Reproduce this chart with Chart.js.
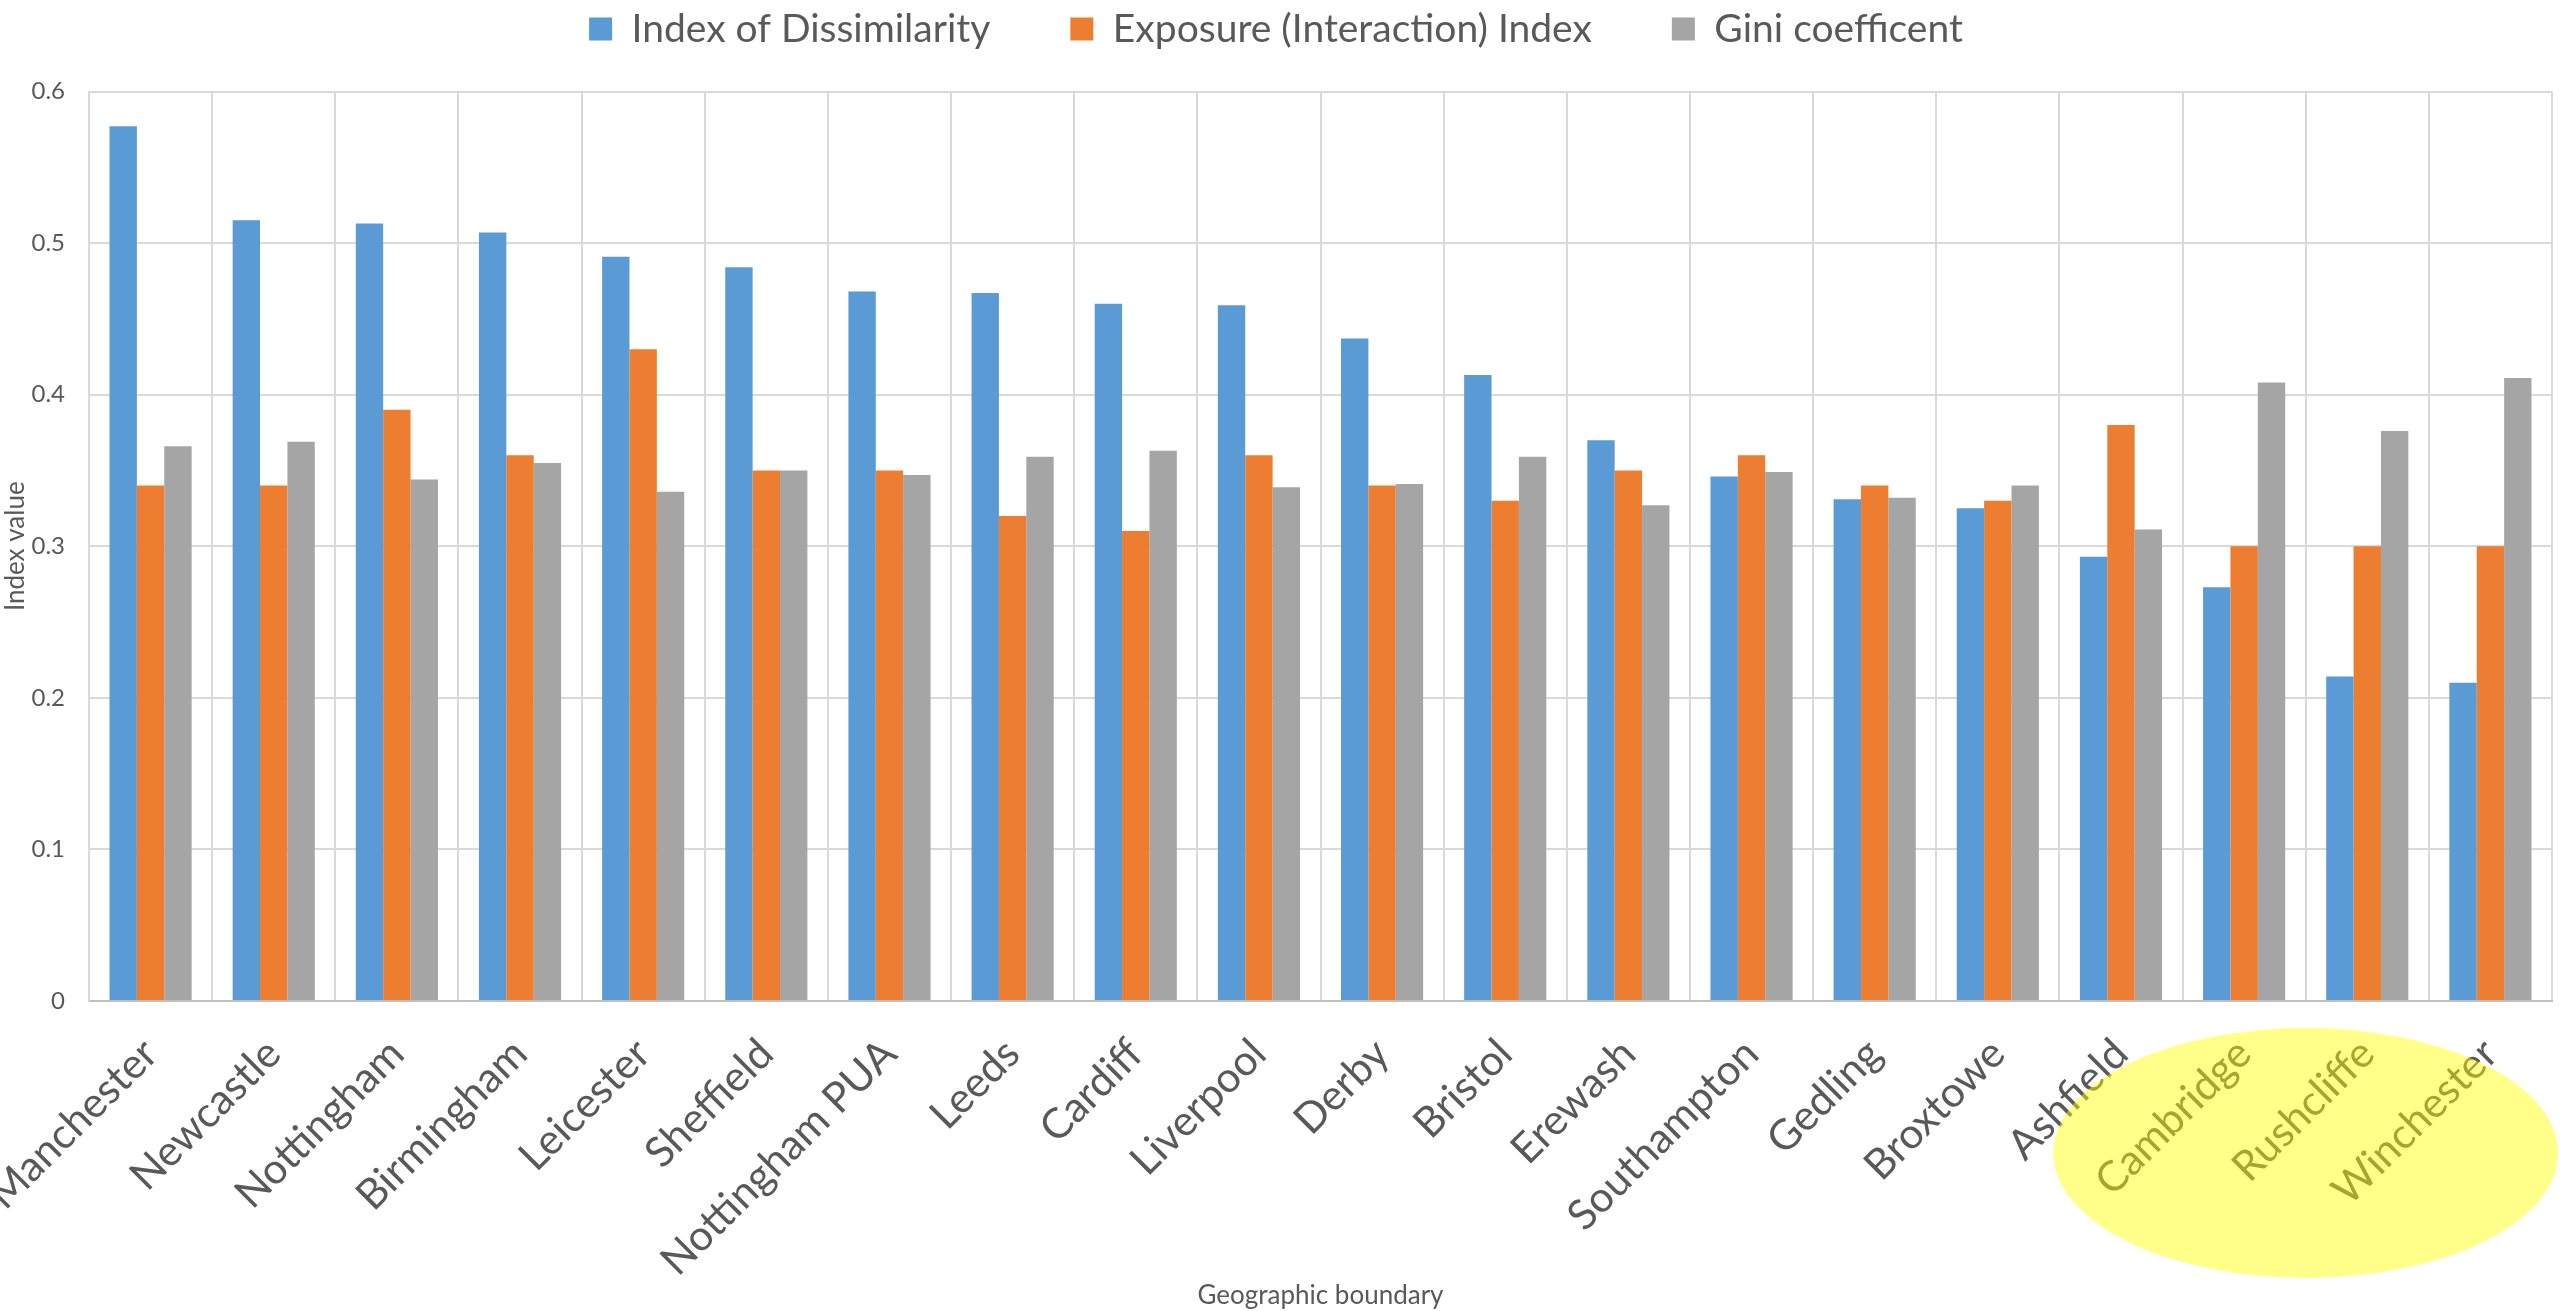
<!DOCTYPE html>
<html>
<head>
<meta charset="utf-8">
<title>Segregation indices by geographic boundary</title>
<script src="https://cdn.jsdelivr.net/npm/chart.js@4"></script>
<style>
  html, body { margin: 0; padding: 0; background: #fff; }
  #wrap { width: 2560px; height: 1311px; position: relative; }
</style>
</head>
<body>
<div id="wrap"><canvas id="chart"></canvas></div>
<script>
const categories = ["Manchester", "Newcastle", "Nottingham", "Birmingham", "Leicester", "Sheffield",
    "Nottingham PUA", "Leeds", "Cardiff", "Liverpool", "Derby", "Bristol", "Erewash", "Southampton",
    "Gedling", "Broxtowe", "Ashfield", "Cambridge", "Rushcliffe", "Winchester"];

const seriesNames = ["Index of Dissimilarity", "Exposure (Interaction) Index", "Gini coefficent"];

const dissimilarity = [0.577, 0.515, 0.513, 0.507, 0.491, 0.484, 0.468, 0.467, 0.460, 0.459,
    0.437, 0.413, 0.370, 0.346, 0.331, 0.325, 0.293, 0.273, 0.214, 0.210];
const exposure = [0.34, 0.34, 0.39, 0.36, 0.43, 0.35, 0.35, 0.32, 0.31, 0.36,
    0.34, 0.33, 0.35, 0.36, 0.34, 0.33, 0.38, 0.30, 0.30, 0.30];
const gini = [0.366, 0.369, 0.344, 0.355, 0.336, 0.350, 0.347, 0.359, 0.363, 0.339,
    0.341, 0.359, 0.327, 0.349, 0.332, 0.340, 0.311, 0.408, 0.376, 0.411];

const yTickLabels = ["0", "0.1", "0.2", "0.3", "0.4", "0.5", "0.6"];

const colors = ["#5B9BD5", "#ED7D31", "#A5A5A5"];
const textColor = "#595959";
const gridColor = "#D9D9D9";

Chart.defaults.font.family = "Lato, 'Open Sans', sans-serif";
Chart.defaults.color = textColor;

// yellow highlight round the last three labels
const highlight = {
    id: "highlight",
    afterDraw(chart) {
        const x = chart.scales.x;
        const ctx = chart.ctx;
        const step = x.getPixelForValue(1) - x.getPixelForValue(0);
        const cx = (x.getPixelForValue(17) + x.getPixelForValue(18)) / 2;
        const cy = chart.chartArea.bottom + 152;
        ctx.save();
        ctx.fillStyle = "rgba(255, 255, 0, 0.46)";
        ctx.beginPath();
        ctx.ellipse(cx, cy, step * 2.05, 125, 0, 0, Math.PI * 2);
        ctx.fill();
        ctx.restore();
    }
};

new Chart(document.getElementById("chart"), {
    type: "bar",
    data: {
        labels: categories,
        datasets: [dissimilarity, exposure, gini].map((values, i) => ({
            label: seriesNames[i],
            data: values,
            backgroundColor: colors[i],
            borderWidth: 0,
            categoryPercentage: 0.667,
            barPercentage: 1
        }))
    },
    options: {
        responsive: true,
        maintainAspectRatio: false,
        animation: false,
        layout: {
            padding: { top: -70.5, right: 8, bottom: 0, left: 0 }
        },
        scales: {
            x: {
                grid: { color: gridColor, lineWidth: 2, drawTicks: false },
                border: { color: "#BFBFBF", width: 2 },
                ticks: {
                    font: { size: 42 },
                    color: textColor,
                    minRotation: 45,
                    maxRotation: 45,
                    autoSkip: false,
                    padding: 28
                },
                title: {
                    display: true,
                    text: "Geographic boundary",
                    font: { size: 26 },
                    color: textColor,
                    padding: { top: 0, bottom: 0 }
                },
                // first label runs off the left edge, as in the original
                afterFit(scale) {
                    scale.height = 310;
                    scale.paddingLeft = 0;
                    scale.paddingRight = 0;
                }
            },
            y: {
                min: 0,
                max: 0.6,
                grid: { color: gridColor, lineWidth: 2, drawTicks: false },
                border: { color: gridColor, width: 2 },
                ticks: {
                    stepSize: 0.1,
                    font: { size: 24 },
                    color: textColor,
                    padding: 24,
                    callback: (v, i) => yTickLabels[i]
                },
                title: {
                    display: true,
                    text: "Index value",
                    font: { size: 26 },
                    color: textColor,
                    padding: { top: 0, bottom: 0 }
                },
                afterFit(scale) { scale.width = 89; }
            }
        },
        plugins: {
            legend: {
                position: "top",
                labels: {
                    boxWidth: 23,
                    boxHeight: 23,
                    padding: 80,
                    color: textColor,
                    font: { size: 39 }
                }
            },
            // empty title used as a spacer between legend and plot
            title: {
                display: true,
                text: "",
                weight: 500,
                font: { size: 10 },
                padding: { top: 10.5, bottom: 10.5 }
            },
            tooltip: { enabled: false }
        }
    },
    plugins: [highlight]
});
</script>
</body>
</html>
